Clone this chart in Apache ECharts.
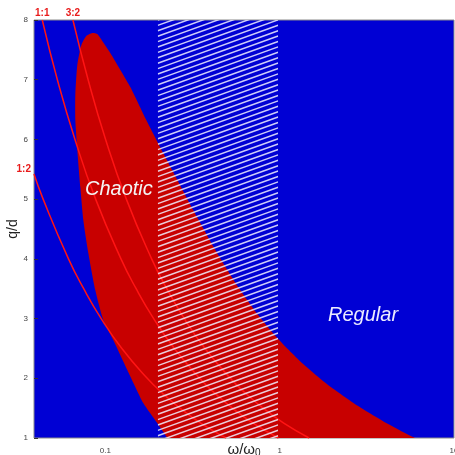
<!DOCTYPE html>
<html>
<head>
<meta charset="utf-8">
<script src="https://cdn.jsdelivr.net/npm/echarts@6/dist/echarts.min.js"></script>
<style>
  html, body { margin: 0; padding: 0; background: #fff; }
  #chart { width: 455px; height: 455px; }
</style>
</head>
<body>
<div id="chart"></div>
<script>
// axis ranges
var xRange = [0.039, 10];
var qRange = [1, 8];

// chaotic region outline (omega/omega0, q/d)
var regionX = [0.2421, 0.2266, 0.1986, 0.1651, 0.1337, 0.1111, 0.0974, 0.0876, 0.0799, 0.0748, 0.0719, 0.0691, 0.0673, 0.0673, 0.0691, 0.0729, 0.0778, 0.0842, 0.0900,
               0.0936, 0.1068, 0.1391, 0.1718, 0.2149, 0.3193, 0.4442, 0.5783, 0.7528, 0.9804, 1.364, 1.896, 2.818, 4.187, 5.977, 8.32];
var regionQ = [0.833, 1.0, 1.251, 1.586, 2.139, 2.641, 2.976, 3.479, 4.098, 4.651, 5.204, 5.823, 6.326, 6.744, 7.247, 7.582, 7.733, 7.783, 7.766,
               7.699, 7.448, 6.878, 6.326, 5.773, 4.818, 4.065, 3.529, 3.060, 2.658, 2.239, 1.888, 1.536, 1.234, 1.0, 0.833];

// resonance lines
var curveQ = [8, 7, 6, 5, 4, 3.5, 3, 2.5, 2, 1.75, 1.5, 1.25, 1];
var line11X = [0.0435, 0.0531, 0.0670, 0.0880, 0.1230, 0.1503, 0.1894, 0.2490, 0.348, 0.425, 0.536, 0.704, 0.984];
var line32X = [0.0652, 0.0797, 0.1004, 0.1320, 0.1844, 0.2253, 0.2839, 0.3732, 0.5216, 0.6373, 0.8031, 1.0556, 1.4753];
var line12X = [0.039, 0.0440, 0.0615, 0.0752, 0.0947, 0.1245, 0.174, 0.2126, 0.2679, 0.3521, 0.4921];
var line12Q = [5.42, 5, 4, 3.5, 3, 2.5, 2, 1.75, 1.5, 1.25, 1];

// hatched band
var hatchX = [0.2, 0.98];

var BLUE = '#0000d4';
var RED = '#c80000';
var LINE = '#ff1414';

function pairs(xs, qs, name, pos, offset) {
  return xs.map(function (x, i) {
    var item = { value: [x, qs[i]] };
    if (i === 0) {
      item.label = {
        show: true, formatter: name, position: pos, offset: offset, distance: 2,
        color: '#e81a1a', fontSize: 10, fontWeight: 'bold', fontFamily: 'Liberation Sans'
      };
    }
    return item;
  });
}

function curve(xs, qs, name, pos, offset) {
  return {
    type: 'line',
    data: pairs(xs, qs, name, pos, offset),
    smooth: true,
    symbol: 'circle',
    symbolSize: 0.1,
    showSymbol: true,
    itemStyle: { color: 'rgba(0,0,0,0)' },
    lineStyle: { color: LINE, width: 1.5 },
    z: 3,
    silent: true
  };
}

var myChart = echarts.init(document.getElementById('chart'));
var option = {
  animation: false,
  grid: {
    left: 34, right: 1, top: 20, bottom: 17,
    outerBoundsMode: 'none',
    containLabel: false,
    show: true, backgroundColor: BLUE, borderColor: '#8a8a8a', borderWidth: 1
  },
  xAxis: {
    type: 'log',
    min: xRange[0],
    max: xRange[1],
    name: '{a|ω/ω}{s|0}',
    nameLocation: 'middle',
    nameGap: 4,
    nameMoveOverlap: false,
    nameTextStyle: {
      rich: {
        a: { fontSize: 15, color: '#222', fontFamily: 'Liberation Sans' },
        s: { fontSize: 10, color: '#222', fontFamily: 'Liberation Sans', padding: [6, 0, 0, 0] }
      }
    },
    axisLine: { show: false },
    axisTick: { show: false },
    splitLine: { show: false },
    axisLabel: {
      margin: 9,
      fontSize: 8,
      color: '#444',
      fontFamily: 'Liberation Sans',
      showMinLabel: false,
      hideOverlap: false,
      formatter: function (v) {
        var l = Math.log(v) / Math.LN10;
        if (Math.abs(l - Math.round(l)) > 1e-6) return '';
        return String(+v.toPrecision(3));
      }
    }
  },
  yAxis: {
    type: 'value',
    min: qRange[0],
    max: qRange[1],
    interval: 1,
    name: 'q/d',
    nameLocation: 'middle',
    nameGap: 14,
    nameMoveOverlap: false,
    nameTextStyle: { fontSize: 14, color: '#222', fontFamily: 'Liberation Sans' },
    axisLine: { show: false },
    axisTick: { show: true, inside: true, length: 4, lineStyle: { color: '#333' } },
    splitLine: { show: false },
    axisLabel: { margin: 6, fontSize: 8, color: '#444', fontFamily: 'Liberation Sans' }
  },
  series: [
    {
      type: 'custom',
      coordinateSystem: 'cartesian2d',
      clip: true,
      silent: true,
      z: 2,
      data: [[0.1, 5]],
      renderItem: function (params, api) {
        var pts = regionX.map(function (x, i) { return api.coord([x, regionQ[i]]); });
        return { type: 'polygon', shape: { points: pts, smooth: 0.2 }, style: { fill: RED } };
      }
    },
    curve(line11X, curveQ, '1:1', 'top', [0, 0]),
    curve(line32X, curveQ, '3:2', 'top', [0, 0]),
    curve(line12X, line12Q, '1:2', 'left', [-1, -5]),
    {
      type: 'custom',
      coordinateSystem: 'cartesian2d',
      clip: true,
      silent: true,
      z: 4,
      data: [[hatchX[0], 4]],
      renderItem: function (params, api) {
        var a = api.coord([hatchX[0], qRange[1]]);
        var b = api.coord([hatchX[1], qRange[0]]);
        var w = b[0] - a[0], h = b[1] - a[1];
        var rise = 0.36 * w, gap = 5.4;
        var kids = [];
        for (var y = a[1]; y < b[1] + rise + gap; y += gap) {
          kids.push({
            type: 'line',
            shape: { x1: a[0], y1: y, x2: b[0], y2: y - rise },
            style: { stroke: 'rgba(240,240,255,0.85)', lineWidth: 1.5 }
          });
        }
        return {
          type: 'group',
          clipPath: { type: 'rect', shape: { x: a[0], y: a[1], width: w, height: h } },
          children: kids
        };
      }
    }
  ],
  graphic: [
    {
      type: 'text', left: 85, top: 179, z: 10,
      style: { text: 'Chaotic', fill: '#f4f4f4', fontSize: 20, fontStyle: 'italic', fontFamily: 'Liberation Sans' }
    },
    {
      type: 'text', left: 328, top: 305, z: 10,
      style: { text: 'Regular', fill: '#ececff', fontSize: 20, fontStyle: 'italic', fontFamily: 'Liberation Sans' }
    }
  ]
};
myChart.setOption(option);
</script>
</body>
</html>
